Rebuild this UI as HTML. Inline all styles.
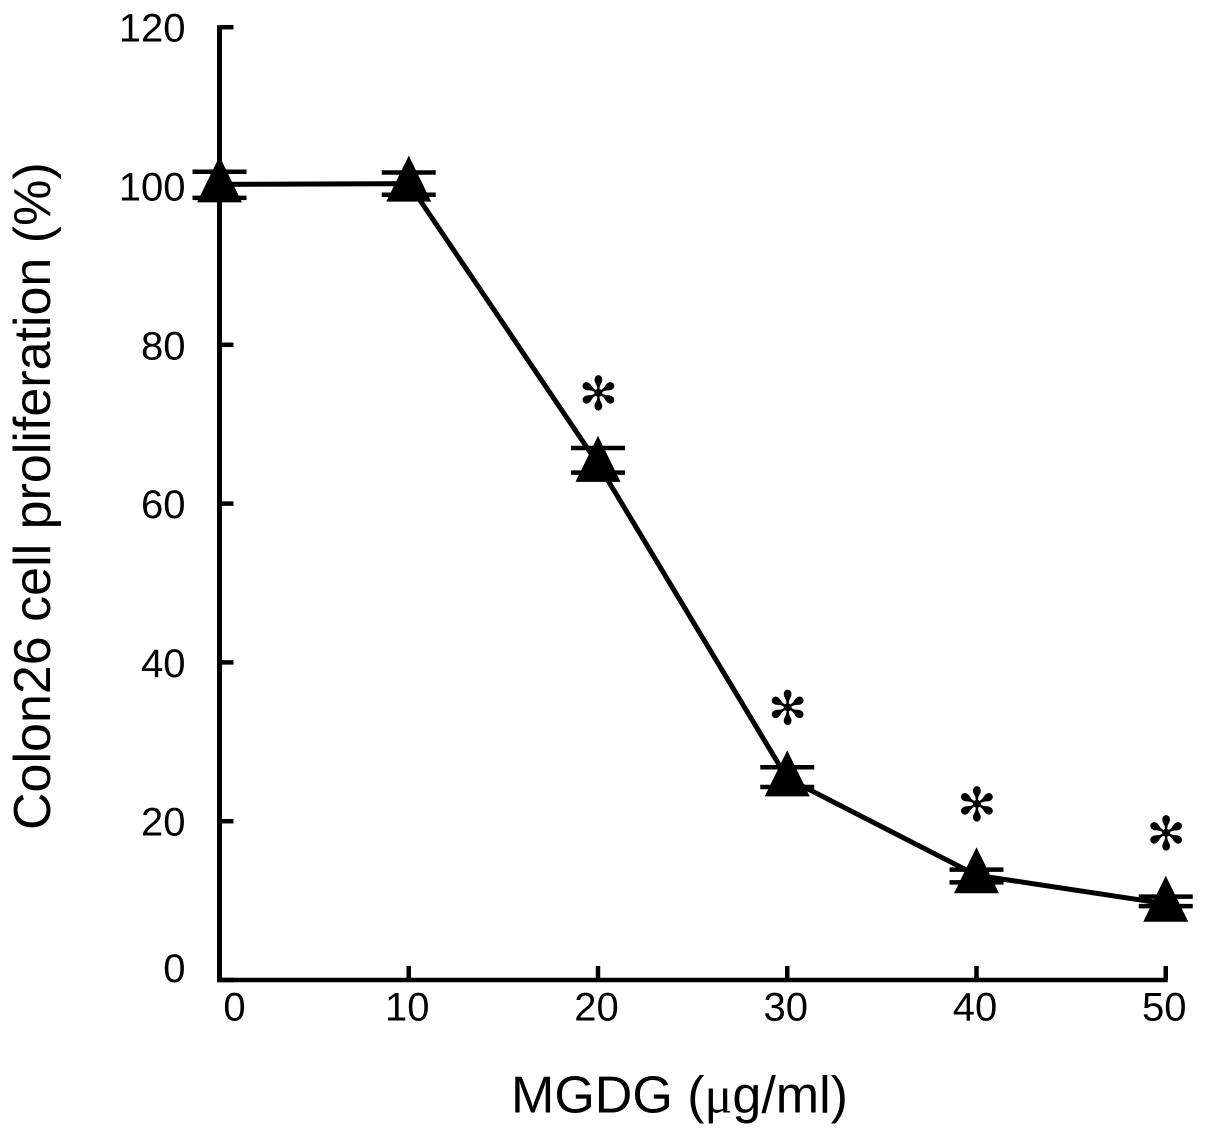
<!DOCTYPE html>
<html>
<head>
<meta charset="utf-8">
<title>Colon26 cell proliferation</title>
<style>
html,body{margin:0;padding:0;background:#fff;}
svg{display:block;font-family:"Liberation Sans",sans-serif;fill:#000;}
</style>
</head>
<body>
<svg id="chart" width="1205" height="1135" viewBox="0 0 1205 1135" xmlns="http://www.w3.org/2000/svg">
<rect x="0" y="0" width="1205" height="1135" fill="#fff"/>
<g id="axes"></g>
<g id="series"></g>
<text x="511" y="1112.5" font-size="52">MGDG (<tspan font-family="'Liberation Serif',serif">μ</tspan>g/ml)</text>
<text transform="translate(50,830) rotate(-90)" font-size="52">Colon26 cell proliferation (%)</text>
</svg>
<script>
const doses = [0, 10, 20, 30, 40, 50];
const proliferation = [100.2, 100.3, 65.0, 25.4, 13.2, 9.6];
const errorUpper = [101.8, 101.7, 67.0, 26.8, 13.9, 10.5];
const errorLower = [98.5, 98.9, 63.9, 24.3, 12.3, 9.3];
const significant = [false, false, true, true, true, true];
const yTicks = [0, 20, 40, 60, 80, 100, 120];
const xTicks = [0, 10, 20, 30, 40, 50];
const yTickLabels = ['0', '20', '40', '60', '80', '100', '120'];
const xTickLabels = ['0', '10', '20', '30', '40', '50'];

const NS = 'http://www.w3.org/2000/svg';
function xScale(v) { return 219.5 + v * 18.925; }
function yScale(v) { return 980 - v * 7.94; }
function make(tag, parent, attrs) {
  const el = document.createElementNS(NS, tag);
  for (const k in attrs) el.setAttribute(k, attrs[k]);
  parent.appendChild(el);
  return el;
}
const axes = document.getElementById('axes');
const series = document.getElementById('series');

const yAxisLine = make('line', axes, {x1: xScale(0), x2: xScale(0), y1: yScale(120) - 2, y2: yScale(0) + 2, stroke: '#000', 'stroke-width': 5});


const xAxisLine = make('line', axes, {x1: xScale(0) - 2.5, x2: xScale(50) + 2, y1: yScale(0), y2: yScale(0), stroke: '#000', 'stroke-width': 4.5});



yTicks.forEach(function (t, i) {
  const tick = make('line', axes, {x1: xScale(0), x2: xScale(0) + 14, y1: yScale(t), y2: yScale(t), stroke: '#000', 'stroke-width': 4.5});
  
  
  const label = make('text', axes, {x: 185.5, y: yScale(t) + (t === 0 ? 2 : 14.5), 'text-anchor': 'end', 'font-size': 40});
  
  
  label.textContent = yTickLabels[i];
});
xTicks.forEach(function (t, i) {
  if (t !== 0) {
    const tick = make('line', axes, {x1: xScale(t), x2: xScale(t), y1: yScale(0), y2: yScale(0) - 14, stroke: '#000', 'stroke-width': 4.5});
    
    
  }
  const label = make('text', axes, {x: xScale(t) + (t === 0 ? 15 : -1.5), y: 1020.7, 'text-anchor': 'middle', 'font-size': 40});
  
  
  label.textContent = xTickLabels[i];
});

const points = doses.map(function (d, i) { return xScale(d) + ',' + yScale(proliferation[i]); }).join(' ');
const dataLine = make('polyline', series, {points: points, fill: 'none', stroke: '#000', 'stroke-width': 5, 'stroke-linejoin': 'round'});



doses.forEach(function (d, i) {
  const cx = xScale(d);
  const cy = yScale(proliferation[i]);
  [errorUpper[i], errorLower[i]].forEach(function (e) {
    const cap = make('line', series, {x1: cx - 27, x2: cx + 27, y1: yScale(e), y2: yScale(e), stroke: '#000', 'stroke-width': 4.5});
    
    
  });
  const marker = make('polygon', series, {points: cx + ',' + (cy - 28) + ' ' + (cx + 22.5) + ',' + (cy + 18) + ' ' + (cx - 22.5) + ',' + (cy + 18), fill: '#000'});
  
  
  if (significant[i]) {
    const star = make('text', series, {x: cx + 0.5, y: cy - 54, 'text-anchor': 'middle', 'font-size': 47, 'font-family': '"DejaVu Sans",sans-serif'});
    
    
    star.textContent = '\u273B';
  }
});
</script>
</body>
</html>
